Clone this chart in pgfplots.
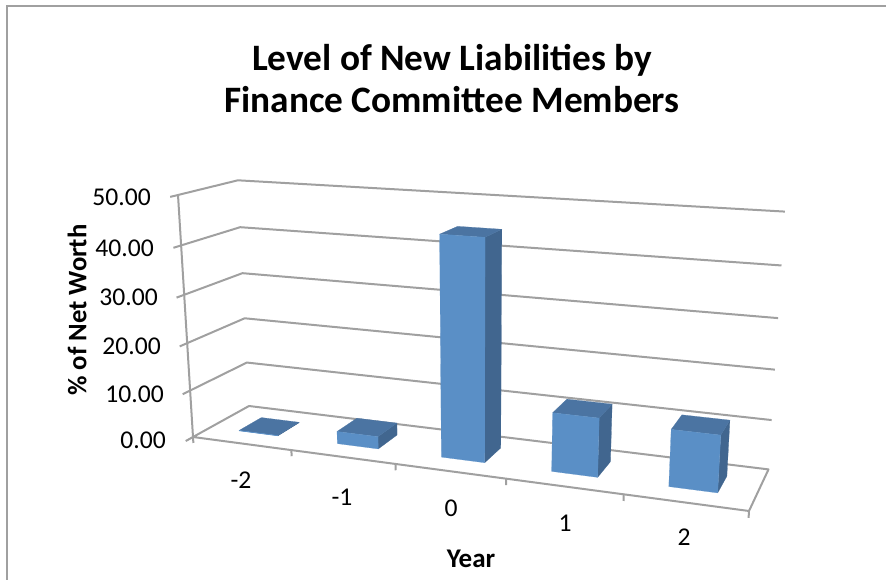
\documentclass[border=0pt]{standalone}
\usepackage{pgfplots}
\pgfplotsset{compat=1.18}
\usepackage{fontspec}
\setmainfont{Carlito}

\definecolor{gridgrey}{HTML}{A0A0A0}
\definecolor{framegrey}{HTML}{A0A0A0}
\definecolor{barfront}{HTML}{5A8FC6}
\definecolor{bartop}{HTML}{4B74A2}
\definecolor{barside}{HTML}{41668F}

% Perspective of the 3-D box: slot u (0..5), depth w (0..1), value v (0..50) to page position
\pgfmathdeclarefunction{projx}{3}{%
  \pgfmathparse{(193+451.14*((#1)/5)+74.8*(#2)-23.9*((#3)/50))/(1-0.14*((#1)/5)+0.0755*(#2)-0.05*((#3)/50))}}
\pgfmathdeclarefunction{projy}{3}{%
  \pgfmathparse{(437+2.46*((#1)/5)-0.35*(#2)-251.75*((#3)/50))/(1-0.14*((#1)/5)+0.0755*(#2)-0.05*((#3)/50))}}

% One path through points given as u, w, v
\newcommand{\boxpath}[2]{%
  \addplot[#1] table[row sep=\\,
    x expr={projx(\thisrow{u},\thisrow{w},\thisrow{v})},
    y expr={projy(\thisrow{u},\thisrow{w},\thisrow{v})}] {u w v\\ #2};}

% A bar between slots #1 and #2 with value #3
\newcommand{\drawbar}[3]{%
  \boxpath{fill=barside,draw=barside,line width=0.2pt}{#2 0.30 0\\ #2 0.71 0\\ #2 0.71 #3\\ #2 0.30 #3\\ #2 0.30 0\\}
  \boxpath{fill=bartop,draw=bartop,line width=0.2pt}{#1 0.30 #3\\ #2 0.30 #3\\ #2 0.71 #3\\ #1 0.71 #3\\ #1 0.30 #3\\}
  \boxpath{fill=barfront,draw=barfront,line width=0.2pt}{#1 0.30 0\\ #2 0.30 0\\ #2 0.30 #3\\ #1 0.30 #3\\ #1 0.30 0\\}
}

% Level line on the side and back walls, with its outward tick
\newcommand{\levelline}[1]{%
  \boxpath{gridline}{0 -0.12 #1\\ 0 0 #1\\ 0 1 #1\\ 5 1 #1\\}}
% Tick under the front edge of the floor
\newcommand{\slottick}[1]{%
  \boxpath{gridline}{#1 0 0\\ #1 0 -1.3\\}}

\begin{document}
\begin{tikzpicture}[x=1pt,y=1pt]
\useasboundingbox (0,0) rectangle (886,580);
\begin{axis}[
  at={(0,0)}, anchor=south west,
  scale only axis, width=886pt, height=580pt,
  xmin=0, xmax=886, ymin=0, ymax=580, y dir=reverse,
  hide axis, clip=false,
  gridline/.style={draw=gridgrey,line width=2pt,line join=round},
  every axis plot/.append style={mark=none},
]
% Chart frame, open at the page edges
\addplot[draw=framegrey,line width=2.6pt] coordinates {(7,580) (7,6) (886,6)};

% Walls and floor
\levelline{10}
\levelline{20}
\levelline{30}
\levelline{40}
\levelline{50}
\boxpath{gridline}{0 -0.12 0\\ 0 0 0\\ 5 0 0\\ 5 1 0\\ 0 1 0\\ 0 0 0\\}
\boxpath{gridline}{0 0 0\\ 0 0 50\\}
\slottick{0}
\slottick{1}
\slottick{2}
\slottick{3}
\slottick{4}
\slottick{5}

% Year -2 to 2
\drawbar{0.30}{0.70}{0.1}
\drawbar{1.30}{1.70}{2.6}
\drawbar{2.30}{2.70}{44.5}
\drawbar{3.30}{3.70}{11.8}
\drawbar{4.30}{4.70}{11.2}

% Title and axis names
\node[align=center,font=\fontsize{37.3}{42}\selectfont\bfseries] at (axis cs:452,79)
  {Level of New Liabilities by\\Finance Committee Members};
\node[rotate=90,font=\fontsize{26.7}{30}\selectfont\bfseries] at (axis cs:77,310) {\% of Net Worth};
\node[font=\fontsize{27}{30}\selectfont\bfseries] at (axis cs:471,559) {Year};

% Value labels
\foreach \px/\py/\txt in {151/197/50.00,154/248/40.00,158/297/30.00,161/346/20.00,164/394/10.00,166/440/0.00}{
  \edef\temp{\noexpand\node[anchor=east,inner sep=0pt,font=\noexpand\fontsize{25.6}{30}\noexpand\selectfont] at (axis cs:\px,\py) {\txt};}
  \temp
}
% Year labels
\foreach \px/\py/\txt in {241/480/-2,342/497/-1,451/508/0,565/523/1,684/537/2}{
  \edef\temp{\noexpand\node[inner sep=0pt,font=\noexpand\fontsize{25.6}{30}\noexpand\selectfont] at (axis cs:\px,\py) {\txt};}
  \temp
}
\end{axis}
\end{tikzpicture}
\end{document}
